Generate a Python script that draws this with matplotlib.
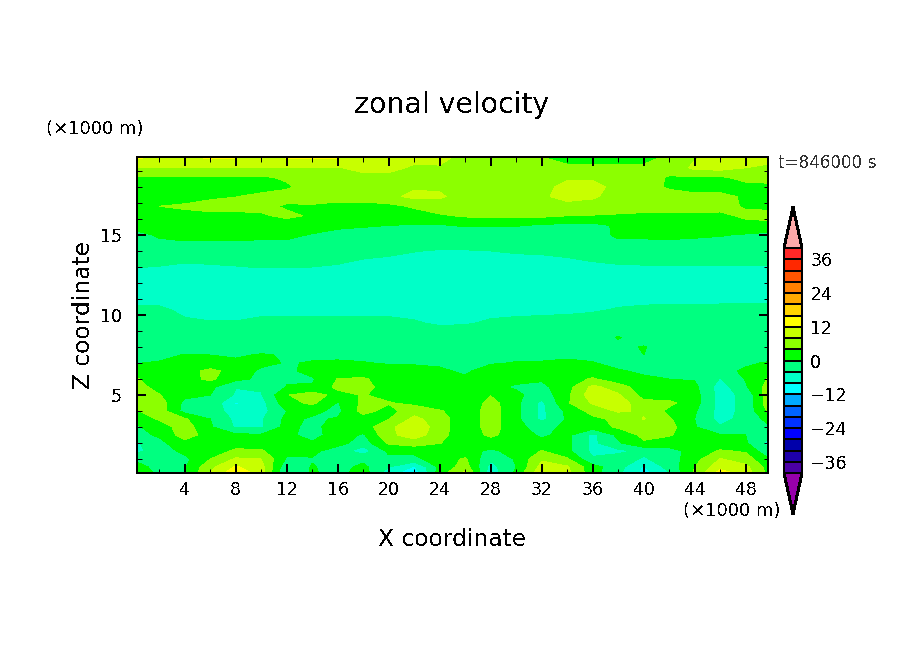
import numpy as np
import matplotlib
matplotlib.use("Agg")
import matplotlib.pyplot as plt
from matplotlib.colors import ListedColormap, BoundaryNorm

# values, km / m/s
x_km = [0.25, 2, 4, 6, 8, 10, 12, 14, 16, 18, 20, 22, 24, 26, 28, 30, 32, 34, 36, 38, 40, 42, 44, 46, 48, 49.75]
z_km = [19.875, 19.2, 18.6, 18, 17.4, 16.8, 16.2, 15.6, 15, 14, 13, 12, 11, 10.3, 9.5, 8.6, 8, 7.5, 7,
        6.5, 6, 5.5, 5, 4.5, 4, 3.5, 3, 2.5, 2, 1.5, 1, 0.5, 0.125]
zonal_u = [
    [13, 11, 11, 13, 12.5, 11, 12.5, 12.5, 12.5, 11, 10, 9, 9.5, 6.5, 5, 5, 4, 3, 3, 3, 3, 4.5, 7.5, 9.5, 9.5, 9],
    [7.8, 7.8, 7.8, 7.8, 7.8, 7.8, 7.8, 7.8, 7.8, 9, 9, 7.5, 7.5, 7, 7, 7, 4.5, 4.5, 4.5, 4.5, 4.5, 5, 9, 9.5, 8, 7.5],
    [3.8, 3.8, 3.8, 3.5, 3.8, 3.5, 4.5, 6, 6.5, 7, 7, 7, 7, 6.5, 6, 6, 7, 7.5, 7.5, 6.5, 5, 3.8, 3.5, 3.5, 5, 5.5],
    [2.5, 2.5, 2.5, 2.5, 2.5, 2.5, 3.5, 5.5, 6, 6.5, 7, 7.5, 7.5, 6.5, 6, 6, 7, 9, 9, 7, 5.5, 3.5, 2.5, 2.5, 3, 3],
    [2.5, 2.5, 2.5, 3, 3.9, 5, 5.5, 6, 6, 6, 7, 9, 8.5, 6.5, 6, 6, 7.5, 9, 8.5, 6.5, 6, 5.5, 5, 5, 3.5, 3],
    [3.5, 4, 4.5, 6, 6, 5, 3.5, 3.5, 2.5, 2.5, 3, 4.5, 6, 6, 6, 6, 6.5, 7, 6.5, 6, 6, 6, 6, 5.5, 3.5, 3],
    [3, 3, 3, 2.5, 2.5, 3.5, 4.8, 3.5, 2.5, 2, 2, 2.5, 3.5, 4.5, 5, 5, 4.8, 4, 3.8, 3.5, 3, 3, 3, 3, 4.8, 5.5],
    [1.5, 2, 2, 2, 2, 2, 2, 2, 1, 0.5, 0, -0.3, -0.3, 0.3, 0.3, 0.2, -0.5, -1, -1, 0.5, 2, 2, 2, 2, 2.5, 2.5],
    [-1, 0.5, 1.5, 1.5, 1.5, 1, 1, -0.3, -1.5, -2, -2, -2, -2, -1.5, -1.5, -1.5, -2, -2, -2, 0.8, 0.8, 0.8, 0.5, 0.2, -0.3, -1],
    [-1, -2, -2.5, -2.5, -2.5, -2.5, -2.5, -2.5, -2.5, -3, -3.5, -3.9, -4.2, -4.2, -4, -3.8, -3.7, -3.3, -3, -2.5, -2.5, -2, -2, -2, -2, -2],
    [-3.9, -4.1, -4.5, -4.3, -4.1, -3.9, -3.9, -4, -4.3, -5, -5, -5.5, -5.5, -5.5, -5.5, -5, -5, -5, -4.5, -4.3, -4.2, -4.2, -4.2, -4.2, -4.2, -4.2],
    [-5.5, -5.5, -6, -6, -6, -6, -5.5, -5.5, -6, -6, -6, -6, -6, -6, -6, -6, -6, -6, -6, -6, -5.5, -5.5, -5.5, -5.5, -5.5, -5.5],
    [-4.8, -4.8, -5, -5.5, -5.5, -5.5, -5, -5, -5, -5, -5, -5, -5, -5, -5, -5, -5, -5, -5, -4.6, -4.6, -4.5, -4.5, -4.4, -4.4, -4.4],
    [-3.5, -3.5, -4.5, -5, -5, -4.5, -4.5, -4.5, -4.5, -4.5, -4.5, -4.6, -4.8, -4.8, -4.6, -4.5, -4.5, -4.5, -4.2, -3.8, -3.5, -3.5, -3.5, -3.5, -3.5, -3.5],
    [-3.5, -3.5, -3.6, -3.8, -3.8, -3.5, -3.5, -3.5, -3.5, -3.5, -3.5, -3.8, -4.3, -4.2, -3.7, -3.5, -3.3, -3, -3, -3, -3, -3, -3, -3, -3, -3],
    [-2.5, -2.5, -2.5, -2.5, -2.5, -2.5, -2.5, -2.5, -2.5, -2.5, -2.5, -2.5, -2.5, -2.5, -2.5, -2.5, -2.5, -2.5, -1.5, 0.2, -1.5, -2.5, -2.5, -2.5, -2.5, -2.5],
    [-2, -2, -1.5, -1.5, -1.5, -1.5, -2, -2, -2, -2, -2, -2, -2, -2, -2, -2, -2, -2, -2, -0.8, 0.2, -1.5, -2, -2, -2, -2],
    [-1.5, -1, 0.2, 0, -0.5, 0.3, -0.3, -0.8, -0.8, -1, -1, -1, -1, -1, -1, -1, -1, -1, -1, -1, 0, -1, -1.5, -1.5, -1.5, -1.5],
    [-0.1, 0.3, 1.5, 1.5, 0.8, 1, -0.3, 0.3, 0.5, 0.2, -0.3, -0.3, -0.5, -0.8, -0.3, 0.2, 0.3, 1, 0.2, -1, -1, -1.5, -1.5, -1.5, -0.5, 0.3],
    [1.5, 2, 2.5, 5, 2.5, -0.8, -1, 1.5, 1.5, 1.5, 1.5, 1, 0.5, -0.5, 1.5, 2, 2, 2.5, 1.5, 0.3, -0.5, -1, -1, -1, 0.5, 1.5],
    [4.2, 2.5, 2.5, 4.8, 1, -0.8, -0.5, -0.5, 4.2, 4.5, 2, 1.5, 1, 0.5, 1, 1, 0.5, 2, 4.5, 1.5, 0.5, 0, -0.3, -4.2, 0.3, 4.2],
    [5.5, 2.5, 1.5, 1, -3.9, -3.5, 0.2, 0.5, 5, 5.5, 2, 2, 1, 1, 1, -0.5, -1, 2.5, 9, 6, 1.5, 1, 1, -6, -0.5, 5.5],
    [6.5, 4.2, 1, 0, -4.5, -4.3, 3.8, 6, 2.5, 4.3, 2.5, 2, 0.5, 1, 3.8, 1, -2.5, 3, 10.5, 8.5, 2.5, 2, 1.5, -5.5, -3, 6],
    [6, 6, -1, -0.8, -8.5, -5.5, 2.5, 4.8, -0.3, 5, 4.3, 3, 0.3, 0.5, 5.5, 1, -5, 3.5, 8.5, 10.5, 5, 5, 1.5, -5.5, -3, 6],
    [3.8, 6, -1.5, -0.5, -7, -5.5, 0, 1, -1, 5.5, 2.5, 6.5, 4.5, 1, 6, 1, -5, 1, 5.5, 8.5, 7.5, 3, 0.5, -5.5, -3, 4.5],
    [1.5, 4.5, 4.5, 0, -5, -4.5, 1, -0.5, 0.3, 2, 3.8, 9, 6, 1, 6, 1, -5, 0.5, 3, 5, 8.2, 4.5, 0, -5.5, -2.5, 1],
    [-0.5, 2, 6, 0.5, -4.5, -4.5, 1.5, -1.5, 2.5, 2, 7, 11, 6, 1, 6, 1, -1.5, 1, 2, 4.6, 5.5, 5.5, 0.3, -3.5, -1, -0.5],
    [-1, 0.5, 6, 2, 0.8, 0.5, 1, -1.5, 2, -0.5, 7, 10, 5.5, 1, 5, 1.5, -0.5, 1, -5, 1, 5, 4.5, 1, 0.3, 0, -3.5],
    [-4.5, -1, 2.5, 2, 1.5, 1.5, 1.5, 0.5, 1.5, -2, 4.5, 6, 4.2, 1, 1.5, 1.5, 1, 1, -5, -0.5, 3.5, 1.5, 1, 1, 0.5, -5],
    [-5, -2, 1, 1, 5, 4.5, 1, 1, -2, -6, 1, 1, 1, 1, -0.5, 1, 4.2, 1, -5, -5, -3, -1, 1, 4.5, 3.5, -3],
    [-1, -1, -1, 4, 8.5, 8, -0.5, -0.3, -2, -1, -1, -1, 2, 4.5, -3.5, 0.5, 7.5, 4.5, -3.5, -2, -4.5, -2, 2.5, 8.2, 6, 0.5],
    [1.5, -1.5, -0.5, 7, 12.5, 9.5, -3, 0.3, -1.5, 1, -4, -8.5, 1, 6, -5.5, 0, 9.5, 8.5, 1.5, -2.5, -8.5, -2.5, 4, 10.5, 9, 2.5],
    [3, -1, -0.5, 8, 15, 10, -5, 0.5, -1.5, 2, -6.5, -10.5, 2, 9, -6.5, 1, 11, 9, 1.5, -3, -9.5, -4, 4.5, 14, 10, 3],
]

levels = list(range(-40, 41, 4))
band_colors = ["#4b00a5", "#1e00aa", "#0000aa", "#0000ff", "#0032ff", "#0064ff", "#00aaff", "#00ffff",
               "#00ffc8", "#00ff80", "#00ff00", "#8cff00", "#c8ff00", "#ffff00", "#ffd500", "#ffaa00",
               "#ff8000", "#ff5500", "#ff2800", "#ff2828"]
under_color = "#9600aa"
over_color = "#ffaaaa"
cbar_ticks = [-36, -24, -12, 0, 12, 24, 36]

W, H = 904, 654
px = 0.72  # one pixel in points at dpi 100

plt.rcParams['font.family'] = ['DejaVu Sans']
plt.rcParams['text.antialiased'] = False
plt.rcParams['lines.antialiased'] = False
plt.rcParams['patch.antialiased'] = False

fig = plt.figure(figsize=(W / 100, H / 100), dpi=100)
ax = fig.add_axes([137 / W, 1 - 473 / H, (768 - 137) / W, (473 - 157) / H])

cmap = ListedColormap(band_colors)
cmap.set_under(under_color)
cmap.set_over(over_color)
norm = BoundaryNorm(levels, cmap.N)

z_up = np.array(z_km)[::-1]
u_up = np.array(zonal_u)[::-1]
cs = ax.contourf(x_km, z_up, u_up, levels=levels, cmap=cmap, norm=norm, extend='both', antialiased=False)

ax.set_xlim(0.25, 49.75)
ax.set_ylim(0.125, 19.875)
ax.set_xticks(range(4, 49, 4))
ax.set_xticks(range(2, 50, 2), minor=True)
ax.set_yticks([5, 10, 15])
ax.set_yticks(range(1, 20), minor=True)
ax.tick_params(which='major', direction='in', top=True, right=True, length=9 * px, width=2 * px, labelsize=12.5)
ax.tick_params(which='minor', direction='in', top=True, right=True, length=4.5 * px, width=1 * px)
ax.tick_params(axis='x', which='major', pad=6)
ax.tick_params(axis='y', which='major', pad=11)
for s in ax.spines.values():
    s.set_linewidth(2 * px)

fig.text(452 / W, 1 - 105 / H, "zonal velocity", fontsize=20.4, ha='center', va='center')
fig.text(95 / W, 1 - 129 / H, "(×1000 m)", fontsize=13, ha='center', va='center')
fig.text(732 / W, 1 - 511 / H, "(×1000 m)", fontsize=13, ha='center', va='center')
fig.text(827 / W, 1 - 163 / H, "t=846000 s", fontsize=12.1, color='#333333', ha='center', va='center')
fig.text(452 / W, 1 - 540 / H, "X coordinate", fontsize=16.8, ha='center', va='center')
fig.text(83 / W, 1 - 315 / H, "Z coordinate", fontsize=16.8, rotation=90, ha='center', va='center')

# extensions are drawn inside the colorbar axes, so it spans tip to tip
cax = fig.add_axes([784 / W, 1 - 514 / H, 18 / W, 307 / H])
cb = fig.colorbar(cs, cax=cax, ticks=cbar_ticks, extendfrac=41 / 225, drawedges=True)
cb.outline.set_linewidth(2 * px)
cb.dividers.set_linewidth(2 * px)
cb.dividers.set_color('black')
cb.ax.tick_params(length=0, labelsize=12.5, pad=6)
cb.ax.minorticks_off()

fig.savefig("out.png", dpi=100)
